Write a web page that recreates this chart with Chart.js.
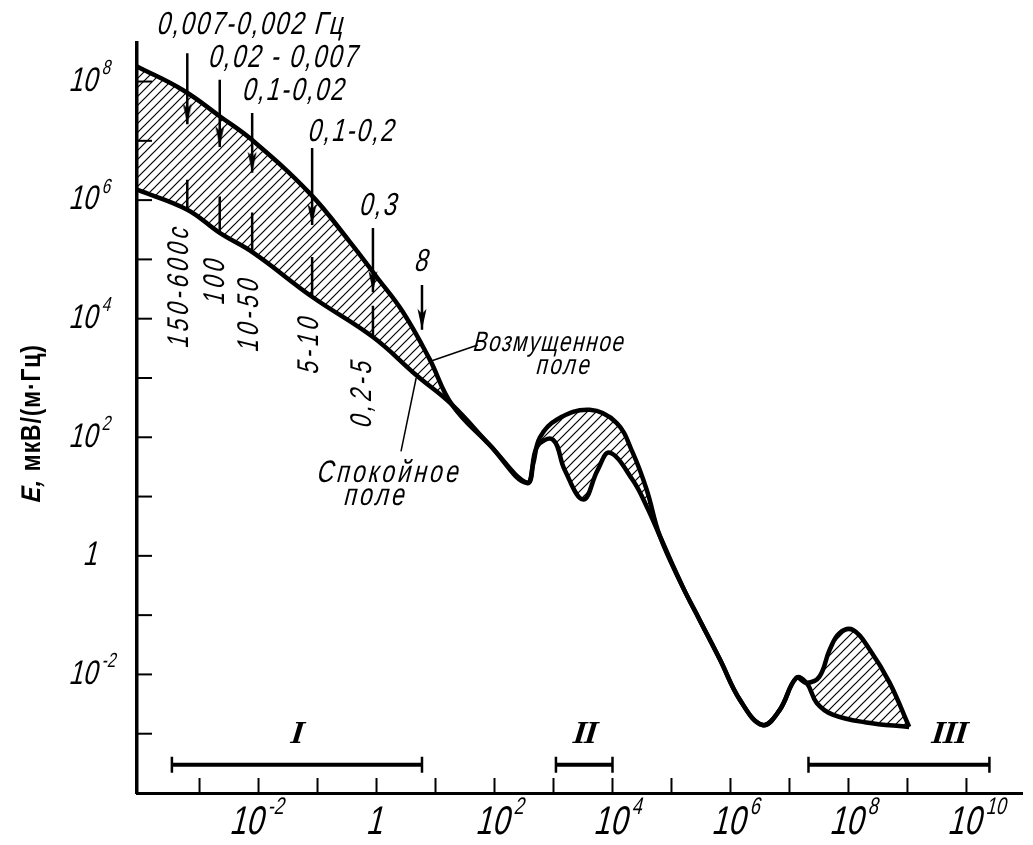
<!DOCTYPE html>
<html>
<head>
<meta charset="utf-8">
<script src="https://cdn.jsdelivr.net/npm/chart.js@4.4.1/dist/chart.umd.min.js"></script>
<style>
  html, body { margin: 0; padding: 0; background: #fff; }
</style>
</head>
<body>
<canvas id="spectrumChart" width="1033" height="845"></canvas>
<script>
// Field spectrum, frequency in Hz, E in µV/(m·Hz)
var disturbedFreq = [8.7e-5, 5.2e-4, 2.2e-3, 8.1e-3, 7.4e-2, 0.35, 1.0, 2.8, 7.9, 19, 83, 355,
  450, 590, 1150, 4100, 1.17e4, 2.2e4, 3.8e4, 6.3e4, 1.55e5, 3.0e5, 6.6e5, 1.45e6, 3.5e6,
  6.8e6, 1.3e7, 1.95e7, 3.2e7, 4.8e7, 7.1e7, 1.2e8, 2.3e8, 5.0e8, 1.07e9];
var disturbedField = [1.8e8, 7.2e7, 2.6e7, 1.0e7, 1.3e6, 2.0e5, 5.1e4, 1.3e4, 2.1e3, 355, 74, 17,
  35, 100, 200, 290, 175, 55, 13, 2.2, 0.30, 8.3e-2, 1.8e-2, 3.7e-3, 1.4e-3,
  2.5e-3, 8.7e-3, 7.2e-3, 9.1e-3, 2.6e-2, 5.0e-2, 5.6e-2, 2.6e-2, 7.2e-3, 1.3e-3];

var quietFreq = [8.7e-5, 6.2e-4, 2.2e-3, 8.1e-3, 8.3e-2, 0.87, 4.8, 19, 83, 355, 525, 980, 1550,
  3200, 5600, 8900, 2.2e4, 3.8e4, 6.3e4, 1.55e5, 3.0e5, 6.6e5, 1.45e6, 3.5e6, 6.8e6, 1.3e7,
  1.95e7, 2.9e7, 5.4e7, 2.0e8, 1.07e9];
var quietField = [1.5e6, 6.9e5, 2.8e5, 1.3e5, 2.3e4, 4.9e3, 1.1e3, 355, 74, 17, 69, 91, 28,
  8.9, 28, 55, 19, 6.8, 2.2, 0.30, 8.3e-2, 1.8e-2, 3.7e-3, 1.4e-3, 2.5e-3, 8.7e-3,
  7.2e-3, 3.3e-3, 2.1e-3, 1.55e-3, 1.3e-3];

// pulsation arrows (frequency bands) pointing at the disturbed curve
var arrowFreq = [6.2e-4, 2.2e-3, 7.8e-3, 8.1e-2, 0.87, 5.9];
var arrowTop = [3.0e8, 1.07e8, 2.95e7, 7.6e6, 3.4e5, 3.7e4];
var arrowTip = [1.9e7, 7.9e6, 2.9e6, 3.8e5, 2.8e4, 6.5e3];
var arrowLabels = ['0,007-0,002 Гц', '0,02 - 0,007', '0,1-0,02', '0,1-0,2', '0,3', '8'];

// period marks standing on the quiet curve
var periodFreq = [6.2e-4, 2.2e-3, 7.8e-3, 8.1e-2, 0.87];
var periodBase = [6.9e5, 2.8e5, 1.3e5, 2.5e4, 4.9e3];
var periodTop = [2.2e6, 1.15e6, 6.2e5, 1.1e5, 1.66e4];
var periodLabels = ['150-600с', '100', '10-50', '5-10', '0,2-5'];

// frequency ranges I, II, III
var rangeLabels = ['I', 'II', 'III'];
var rangeFrom = [3.4e-4, 1.1e3, 2.1e7];
var rangeTo = [5.9, 1.0e4, 2.45e10];
var rangeLevel = 3.0e-4;

var xTickExps = [-3, -2, -1, 0, 1, 2, 3, 4, 5, 6, 7, 8, 9, 10];
var xLabelExps = [-2, 0, 2, 4, 6, 8, 10];
var yTickExps = [-3, -2, -1, 0, 1, 2, 3, 4, 5, 6, 7, 8];
var yLabelExps = [8, 6, 4, 2, 0, -2];

// where the text notes sit, in data coordinates
var arrowLabelAt = [[7.8e-3, 9.1e8], [2.8e-2, 2.5e8], [4.2e-2, 6.8e7], [0.40, 1.4e7], [1.15, 7.8e5], [6.2, 9.1e4]];
var periodLabelAt = [[4.7e-4, 3.7e4], [1.9e-3, 4.6e4], [7.2e-3, 1.26e4], [7.4e-2, 3.9e3], [0.59, 590]];
var rangeLabelAt = [[4.5e-2, 9.6e-4], [3.4e3, 9.6e-4], [5.1e9, 9.6e-4]];
var leaderDisturbed = [[8.7, 1.95e3], [52, 3.6e3]];
var leaderQuiet = [[4.7, 1.0e3], [2.6, 58]];

var ctx = document.getElementById('spectrumChart').getContext('2d');

function pts(xs, ys) {
  return xs.map(function (x, i) { return { x: x, y: ys[i] }; });
}

function hatchPattern() {
  var c = document.createElement('canvas');
  c.width = 9; c.height = 9;
  var g = c.getContext('2d');
  g.strokeStyle = '#000';
  g.lineWidth = 1.2;
  g.beginPath();
  g.moveTo(-1, 10); g.lineTo(10, -1);
  g.moveTo(-1, 1); g.lineTo(1, -1);
  g.moveTo(8, 10); g.lineTo(10, 8);
  g.stroke();
  return ctx.createPattern(c, 'repeat');
}

// narrow arrow head, tip on the canvas centre so it lands on the data point
function arrowHead() {
  var c = document.createElement('canvas');
  c.width = 12; c.height = 48;
  var g = c.getContext('2d');
  g.fillStyle = '#000';
  g.beginPath();
  g.moveTo(6, 24);
  g.lineTo(1.5, 3);
  g.lineTo(6, 8);
  g.lineTo(10.5, 3);
  g.closePath();
  g.fill();
  return c;
}

var head = arrowHead();
var datasets = [
  {
    data: pts(disturbedFreq, disturbedField),
    borderColor: '#000', borderWidth: 4.5,
    backgroundColor: hatchPattern(), fill: '+1',
    tension: 0.4, pointRadius: 0
  },
  {
    data: pts(quietFreq, quietField),
    borderColor: '#000', borderWidth: 4.5, fill: false,
    tension: 0.4, pointRadius: 0
  }
];

arrowFreq.forEach(function (f, i) {
  datasets.push({
    data: [{ x: f, y: arrowTop[i] }, { x: f, y: arrowTip[i] }],
    borderColor: '#000', borderWidth: 2.5, fill: false,
    pointStyle: head, pointRadius: [0, 5]
  });
});

periodFreq.forEach(function (f, i) {
  datasets.push({
    data: [{ x: f, y: periodBase[i] }, { x: f, y: periodTop[i] }],
    borderColor: '#000', borderWidth: 2.5, fill: false, pointRadius: 0
  });
});

rangeFrom.forEach(function (f, i) {
  datasets.push({
    data: [{ x: f, y: rangeLevel }, { x: rangeTo[i], y: rangeLevel }],
    borderColor: '#000', borderWidth: 4, fill: false,
    pointStyle: 'line', rotation: 90, pointRadius: 8,
    pointBorderWidth: 2.5, pointBorderColor: '#000'
  });
});

[leaderDisturbed, leaderQuiet].forEach(function (seg) {
  datasets.push({
    data: seg.map(function (p) { return { x: p[0], y: p[1] }; }),
    borderColor: '#000', borderWidth: 1.5, fill: false, pointRadius: 0
  });
});

var NARROW = 0.75;

// slanted, condensed "drafting" lettering
function slant(g, text, x, y, size, align, opts) {
  opts = opts || {};
  g.save();
  g.translate(x, y);
  if (opts.rotate) g.rotate(opts.rotate);
  g.transform(opts.narrow || NARROW, 0, opts.skew === undefined ? -0.25 : opts.skew, 1, 0, 0);
  g.font = (opts.weight || '') + ' ' + size + 'px ' + (opts.family || '"Liberation Sans"');
  g.letterSpacing = (opts.spacing || 0) + 'px';
  g.textAlign = align || 'center';
  g.textBaseline = 'middle';
  g.fillStyle = '#000';
  g.fillText(text, 0, 0);
  g.restore();
}

function power(g, exp, x, y, size, anchor) {
  if (exp === 0) {
    slant(g, '1', x, y, size, anchor === 'right' ? 'right' : 'center');
    return;
  }
  g.save();
  g.font = size + 'px "Liberation Sans"';
  g.letterSpacing = '0px';
  var w = g.measureText('10').width * NARROW;
  g.restore();
  var left = anchor === 'right' ? x - w : x - w / 2 - (exp < 0 ? 10 : 0);
  slant(g, '10', left, y, size, 'left');
  slant(g, String(exp), left + w + 4, y - size * 0.38, size * 0.6, 'left');
}

var ink = {
  id: 'ink',
  afterDraw: function (chart) {
    var g = chart.ctx, xs = chart.scales.x, ys = chart.scales.y, area = chart.chartArea;
    g.save();
    g.strokeStyle = '#000';
    g.lineWidth = 2;
    xTickExps.forEach(function (e) {
      var px = xs.getPixelForValue(Math.pow(10, e));
      g.beginPath(); g.moveTo(px, area.bottom); g.lineTo(px, area.bottom - 15); g.stroke();
    });
    yTickExps.forEach(function (e) {
      var py = ys.getPixelForValue(Math.pow(10, e));
      g.beginPath(); g.moveTo(area.left, py); g.lineTo(area.left + 15, py); g.stroke();
    });
    g.restore();

    xLabelExps.forEach(function (e) {
      power(g, e, xs.getPixelForValue(Math.pow(10, e)), area.bottom + 30, 40, 'center');
    });
    yLabelExps.forEach(function (e) {
      power(g, e, area.left - 38, ys.getPixelForValue(Math.pow(10, e)), 34, 'right');
    });

    function at(p) { return [xs.getPixelForValue(p[0]), ys.getPixelForValue(p[1])]; }

    arrowLabels.forEach(function (t, i) {
      var p = at(arrowLabelAt[i]);
      slant(g, t, p[0], p[1], 32, 'center', { spacing: 2.5 });
    });
    periodLabels.forEach(function (t, i) {
      var p = at(periodLabelAt[i]);
      slant(g, t, p[0], p[1], 30, 'center', { rotate: -Math.PI / 2, spacing: 5 });
    });
    rangeLabels.forEach(function (t, i) {
      var p = at(rangeLabelAt[i]);
      slant(g, t, p[0], p[1], 32, 'center', { family: '"Liberation Serif"', weight: 'bold', skew: -0.3, narrow: 1, spacing: -1 });
    });

    var p = at([870, 3.9e3]);
    slant(g, 'Возмущенное', p[0], p[1], 28, 'center', { spacing: 2 });
    p = at([1550, 1550]);
    slant(g, 'поле', p[0], p[1], 28, 'center', { spacing: 3 });
    p = at([1.7, 25]);
    slant(g, 'Спокойное', p[0], p[1], 31, 'center', { spacing: 4 });
    p = at([1.0, 10]);
    slant(g, 'поле', p[0], p[1], 31, 'center', { spacing: 4 });

    // axis title: italic E, upright units
    var cx = 33, cy = 423, rest = ' мкВ/(м·Гц)';
    g.save();
    g.font = 'bold 27px "Liberation Sans"';
    g.letterSpacing = '1px';
    var wE = g.measureText('E,').width * 0.85, wR = g.measureText(rest).width * 0.85;
    g.restore();
    var start = -(wE + wR) / 2;
    slant(g, 'E,', cx, cy - start, 27, 'left', { rotate: -Math.PI / 2, weight: 'bold', narrow: 0.85, spacing: 1 });
    slant(g, rest, cx, cy - start - wE, 27, 'left', { rotate: -Math.PI / 2, weight: 'bold', narrow: 0.85, skew: 0, spacing: 1 });
  }
};

var spectrumChart = new Chart(ctx, {
  type: 'line',
  data: { datasets: datasets },
  options: {
    responsive: false,
    animation: false,
    layout: { padding: { left: 137, top: 43, right: 10, bottom: 52 } },
    plugins: { legend: { display: false }, tooltip: { enabled: false } },
    scales: {
      x: {
        type: 'logarithmic',
        min: Math.pow(10, -4.06), max: Math.pow(10, 10.95),
        ticks: { display: false },
        grid: { display: false, drawTicks: false },
        border: { display: true, color: '#000', width: 3, z: 1 }
      },
      y: {
        type: 'logarithmic',
        min: 1e-4, max: Math.pow(10, 8.65),
        ticks: { display: false },
        grid: { display: false, drawTicks: false },
        border: { display: true, color: '#000', width: 3.5, z: 1 }
      }
    }
  },
  plugins: [ink]
});
</script>
</body>
</html>
